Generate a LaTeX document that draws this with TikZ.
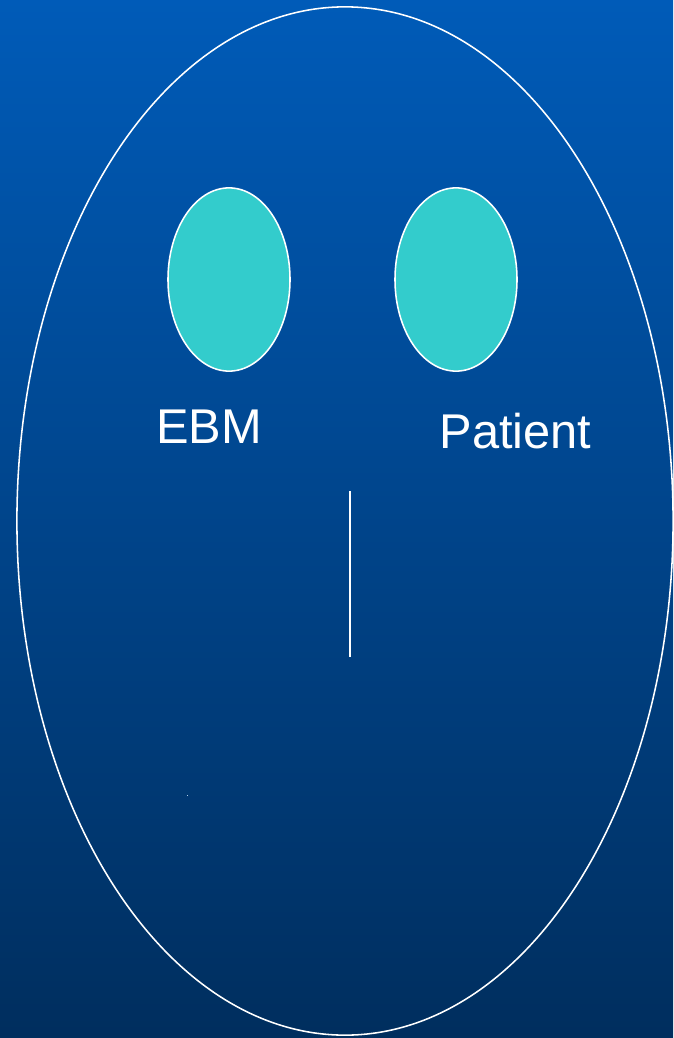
\documentclass[tikz,border=0pt]{standalone}
\usepackage{fontspec}
\setmainfont{Liberation Sans}
\usepackage{tikz}
\usetikzlibrary{shapes.geometric, positioning}
\usepackage{xcolor}
\definecolor{slidetop}{HTML}{005BB8}
\definecolor{slidebottom}{HTML}{002E5E}
\definecolor{eyeteal}{HTML}{33CCCC}

\tikzset{
  eye/.style={ellipse, draw=white, line width=1.1pt, fill=eyeteal, minimum width=3.05cm, minimum height=4.58cm, inner sep=0pt},
  facelabel/.style={text=white, font=\fontsize{34.7}{40}\selectfont, anchor=base, inner sep=0pt}
}

\begin{document}
\begin{tikzpicture}[x=0.025cm, y=-0.025cm]
  % Background
  \shade[top color=slidetop, bottom color=slidebottom] (0,0) rectangle (673,1038);
  \useasboundingbox (0,0) rectangle (673,1038);

  % Face outline
  \node[ellipse, draw=white, line width=1.1pt, minimum width=16.4cm, minimum height=25.7cm, inner sep=0pt] (face) at (345,521) {};

  % Eyes + labels
  \node[eye] (ebm eye) at (229,279.5) {};
  \node[eye] (patient eye) at (456,279.5) {};
  \node[facelabel] (ebm) at (209,443) {EBM};
  \node[facelabel] (patient) at (515.5,448) {Patient};

  % Nose
  \coordinate (nose top) at (350,491);
  \coordinate (nose tip) at (350,657);
  \draw[white, line width=1.1pt] (nose top) -- (nose tip);

  % Stray dot
  \fill[white!70!slidetop] (186.5,794.5) rectangle (188,796);
\end{tikzpicture}
\end{document}
